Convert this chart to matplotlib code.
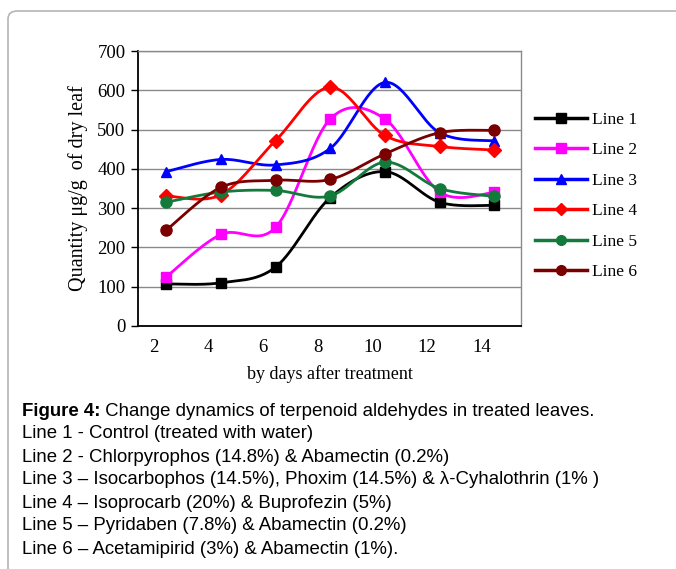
import numpy as np
import matplotlib
matplotlib.use("Agg")
import matplotlib.pyplot as plt
from matplotlib.patches import FancyBboxPatch
from matplotlib.lines import Line2D

# ---- data ----
days = [2, 4, 6, 8, 10, 12, 14]
line1 = [107, 110, 150, 327, 393, 315, 307]
line2 = [125, 233, 251, 527, 527, 341, 340]
line3 = [393, 424, 410, 452, 620, 492, 471]
line4 = [331, 334, 472, 608, 485, 457, 448]
line5 = [315, 341, 345, 331, 417, 350, 330]
line6 = [244, 353, 371, 373, 438, 492, 498]
series_names = ["Line 1", "Line 2", "Line 3", "Line 4", "Line 5", "Line 6"]
yticks = [0, 100, 200, 300, 400, 500, 600, 700]

caption_title = "Figure 4:"
caption_head = " Change dynamics of terpenoid aldehydes in treated leaves."
caption_lines = [
    "Line 1 - Control (treated with water)",
    "Line 2 - Chlorpyrophos (14.8%) & Abamectin (0.2%)",
    "Line 3 \u2013 Isocarbophos (14.5%), Phoxim (14.5%) & \u03bb-Cyhalothrin (1% )",
    "Line 4 \u2013 Isoprocarb (20%) & Buprofezin (5%)",
    "Line 5 \u2013 Pyridaben (7.8%) & Abamectin (0.2%)",
    "Line 6 \u2013 Acetamipirid (3%) & Abamectin (1%).",
]

colors = ["#000000", "#FF00FF", "#0000FF", "#FF0000", "#137A3C", "#7A0000"]
markers = ["s", "s", "^", "D", "o", "o"]
msizes = [7.5, 7.5, 7.5, 7.5, 8, 8]

W, H = 676, 569
fig = plt.figure(figsize=(W / 100, H / 100), dpi=100)
serif = "Liberation Serif"
sans = "Liberation Sans"

# rounded frame (open towards right and bottom, as in the reference crop)
box = FancyBboxPatch((8 / W, 1 - 600 / H), 700 / W, 589 / H,
                     boxstyle="round,pad=0,rounding_size=0.014",
                     transform=fig.transFigure, fill=False,
                     edgecolor="#b5b5b5", linewidth=1.2, clip_on=False)
fig.patches.append(box)

ax = fig.add_axes([138 / W, 1 - 326 / H, (521 - 138) / W, (326 - 51) / H])

def smooth(x, y, n=30):
    x = np.asarray(x, float)
    y = np.asarray(y, float)
    px = np.concatenate([[x[0]], x, [x[-1]]])
    py = np.concatenate([[y[0]], y, [y[-1]]])
    xs, ys = [], []
    for i in range(1, len(px) - 2):
        p0, p1, p2, p3 = (np.array([px[j], py[j]]) for j in (i - 1, i, i + 1, i + 2))
        c1 = p1 + (p2 - p0) / 6.0
        c2 = p2 - (p3 - p1) / 6.0
        t = np.linspace(0, 1, n)[:, None]
        b = ((1 - t) ** 3) * p1 + 3 * ((1 - t) ** 2) * t * c1 + 3 * (1 - t) * t ** 2 * c2 + t ** 3 * p2
        xs.append(b[:, 0]); ys.append(b[:, 1])
    return np.concatenate(xs), np.concatenate(ys)

offset = 0.45
xpos = np.array(days, float) + offset
all_series = [line1, line2, line3, line4, line5, line6]
for vals, c, m, ms in zip(all_series, colors, markers, msizes):
    sx, sy = smooth(xpos, vals)
    ax.plot(sx, sy, color=c, lw=2.0, zorder=3, solid_capstyle="round")
    ax.plot(xpos, vals, ls="none", marker=m, color=c, ms=ms, zorder=4)

ax.set_xlim(1.415, 15.43)
ax.set_ylim(0, 700)
ax.set_yticks(yticks)
ax.set_xticks(days)
ax.set_xticklabels([str(d) for d in days])
ax.grid(axis="y", color="#8a8a8a", lw=1.0)
ax.set_axisbelow(True)
for s in ["top", "right"]:
    ax.spines[s].set_color("#8a8a8a")
    ax.spines[s].set_linewidth(1.0)
for s in ["left", "bottom"]:
    ax.spines[s].set_color("#000000")
    ax.spines[s].set_linewidth(1.3)
ax.tick_params(axis="y", direction="out", length=5, width=1.0, pad=4, labelsize=13.5)
ax.tick_params(axis="x", length=0, pad=9, labelsize=13.5)
for lab in ax.get_xticklabels() + ax.get_yticklabels():
    lab.set_fontfamily(serif)

ax.set_xlabel("by days after treatment", fontfamily=serif, fontsize=13, labelpad=7)
ax.set_ylabel("Quantity \u03bcg/g  of dry leaf", fontfamily=serif, fontsize=14.5, labelpad=7)

# legend
handles = [Line2D([0], [0], color=c, lw=2.5, marker=m, ms=ms - 1)
           for c, m, ms in zip(colors, markers, msizes)]
leg = fig.legend(handles, series_names, loc="upper left",
                 bbox_to_anchor=(528 / W, 1 - 105 / H), frameon=False,
                 prop={"family": serif, "size": 12.5}, handlelength=3.0,
                 handletextpad=0.3, labelspacing=0.82, borderaxespad=0)

# caption
y0 = 411
fs_cap = 13.4
tt = fig.text(22 / W, 1 - y0 / H, caption_title, fontfamily=sans, fontweight="bold",
              fontsize=fs_cap, va="center", ha="left")
fig.canvas.draw()
bb = tt.get_window_extent()
fig.text(bb.x1 / W, 1 - y0 / H, caption_head, fontfamily=sans, fontsize=fs_cap,
         va="center", ha="left")
for i, line in enumerate(caption_lines):
    fig.text(22 / W, 1 - (y0 + 23.0 * (i + 1)) / H, line, fontfamily=sans,
             fontsize=fs_cap, va="center", ha="left")

fig.savefig("out.png", dpi=100)
